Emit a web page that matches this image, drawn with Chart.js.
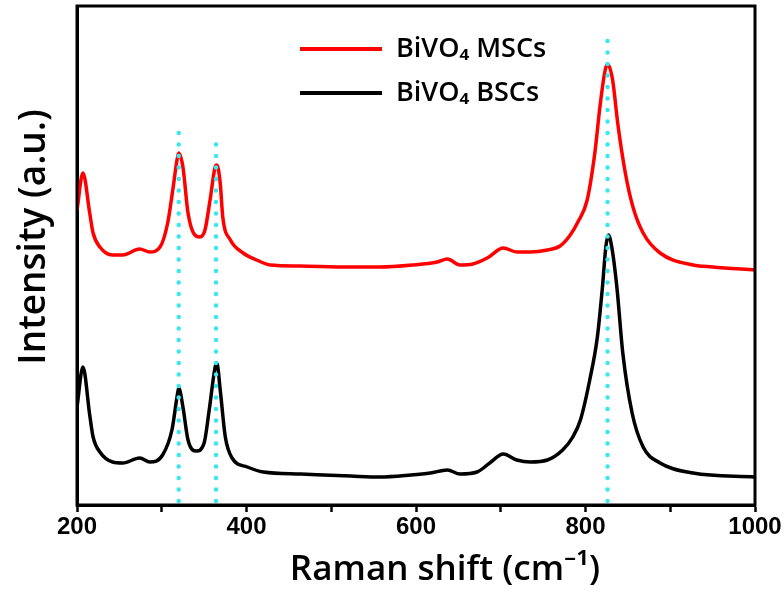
<!DOCTYPE html>
<html>
<head>
<meta charset="utf-8">
<script src="https://cdn.jsdelivr.net/npm/chart.js@4.4.1/dist/chart.umd.min.js"></script>
<style>
  html, body { margin: 0; padding: 0; background: #fff; }
</style>
</head>
<body>
<canvas id="chart" width="784" height="596"></canvas>
<script>
// BiVO4 MSCs (red)
const mscShift = [200, 207, 215, 219, 227, 242, 254, 274, 286, 298, 307, 313, 318, 320, 325, 331, 339, 345, 351, 357, 363, 365, 369, 372, 381, 396, 412, 428, 463, 520, 557, 596, 625, 637, 652, 667, 684, 703, 719, 735, 755, 770, 782, 791, 802, 811, 817, 823, 826, 832, 838, 847, 856, 868, 888, 927, 950, 1000];
const mscIntensity = [297, 334, 294, 274, 260, 252, 252, 258, 255, 260, 284, 317, 347, 354, 340, 294, 272, 270, 277, 307, 340, 342, 324, 290, 267, 254, 247, 242, 241, 240, 240, 242, 245, 248, 242, 243, 249, 259, 255, 255, 257, 261, 272, 285, 307, 354, 400, 436, 443, 427, 384, 334, 300, 274, 254, 242, 240, 237];

// BiVO4 BSCs (black)
const bscShift = [200, 207, 215, 219, 227, 242, 254, 274, 286, 301, 312, 318, 320, 325, 331, 341, 350, 356, 363, 365, 369, 375, 383, 401, 420, 464, 523, 557, 594, 617, 637, 652, 672, 687, 703, 719, 735, 755, 773, 785, 794, 805, 814, 820, 824, 827, 831, 837, 844, 855, 868, 888, 927, 1000];
const bscIntensity = [100, 140, 92, 70, 55, 45, 44, 49, 45, 52, 77, 110, 119, 100, 67, 56, 64, 97, 140, 144, 117, 70, 49, 40, 35, 33, 31, 30, 32, 34, 37, 33, 35, 44, 53, 47, 45, 47, 57, 70, 87, 127, 170, 220, 260, 272, 260, 220, 154, 94, 60, 44, 34, 30];

// cyan dotted guide lines at the main Raman bands
const bandShift = [320, 364, 826];
const bandTop = [379, 369, 470];
const bandBottom = 6;

const seriesLabels = ['BiVO\u2084 MSCs', 'BiVO\u2084 BSCs'];
const xTickLabels = [200, 400, 600, 800, 1000];

const FONT = '"Open Sans", "Noto Sans", sans-serif';
const CYAN = 'rgb(55, 232, 242)';

const toPoints = (xs, ys) => xs.map((x, i) => ({ x: x, y: ys[i] }));

const bandSets = bandShift.map((b, i) => ({
  label: 'band' + i,
  data: [{ x: b, y: bandBottom }, { x: b, y: bandTop[i] }],
  borderColor: CYAN,
  borderWidth: 4.5,
  borderCapStyle: 'round',
  borderDash: [0.1, 11.4],
  pointRadius: 0,
  order: 0
}));

const framePlugin = {
  id: 'frame',
  afterDraw(chart) {
    const { ctx, chartArea: a } = chart;
    ctx.save();
    ctx.strokeStyle = '#000';
    ctx.lineWidth = 3;
    ctx.strokeRect(a.left, a.top, a.right - a.left, a.bottom - a.top);

    ctx.fillStyle = '#000';
    ctx.textAlign = 'center';
    ctx.textBaseline = 'middle';

    // x axis title
    ctx.font = '600 35px ' + FONT;
    ctx.fillText('Raman shift (cm\u207B\u00B9)', 445, 570);

    // y axis title
    ctx.font = '600 37px ' + FONT;
    ctx.translate(34, 237);
    ctx.rotate(-Math.PI / 2);
    ctx.fillText('Intensity (a.u.)', 0, 0);
    ctx.restore();

    // legend
    ctx.save();
    ctx.font = '600 27px ' + FONT;
    ctx.textBaseline = 'middle';
    const rows = [49, 93];
    chart.data.datasets.slice(0, 2).forEach((ds, i) => {
      ctx.strokeStyle = ds.borderColor;
      ctx.lineWidth = 4;
      ctx.beginPath();
      ctx.moveTo(300, rows[i]);
      ctx.lineTo(382, rows[i]);
      ctx.stroke();
      ctx.fillStyle = '#000';
      ctx.fillText(ds.label, 396, rows[i]);
    });
    ctx.restore();
  }
};

new Chart(document.getElementById('chart'), {
  type: 'line',
  data: {
    datasets: [
      {
        label: seriesLabels[0],
        data: toPoints(mscShift, mscIntensity),
        borderColor: '#ff0000',
        borderWidth: 3.5,
        pointRadius: 0,
        cubicInterpolationMode: 'monotone',
        order: 1
      },
      {
        label: seriesLabels[1],
        data: toPoints(bscShift, bscIntensity),
        borderColor: '#000000',
        borderWidth: 3.5,
        pointRadius: 0,
        cubicInterpolationMode: 'monotone',
        order: 2
      },
      ...bandSets
    ]
  },
  options: {
    responsive: false,
    animation: false,
    layout: { padding: { top: 6, right: 29, left: 0, bottom: 0 } },
    plugins: { legend: { display: false }, tooltip: { enabled: false } },
    scales: {
      x: {
        type: 'linear',
        min: 200,
        max: 1000,
        afterFit(s) { s.height = 91; s.paddingLeft = 0; s.paddingRight = 0; },
        border: { display: true, color: '#000', width: 3 },
        grid: { drawOnChartArea: false, tickLength: 7, tickColor: '#000', tickWidth: 2.5 },
        ticks: {
          stepSize: 100,
          autoSkip: false,
          maxRotation: 0,
          padding: 1,
          color: '#000',
          font: { family: '"Liberation Sans", Arial, sans-serif', size: 24, weight: 'bold' },
          callback: v => xTickLabels.includes(v) ? String(v) : ''
        },
        title: { display: false }
      },
      y: {
        min: 2,
        max: 501,
        afterFit(s) { s.width = 77; },
        border: { display: true, color: '#000', width: 3 },
        grid: { display: false },
        ticks: { display: false }
      }
    }
  },
  plugins: [framePlugin]
});
</script>
</body>
</html>
